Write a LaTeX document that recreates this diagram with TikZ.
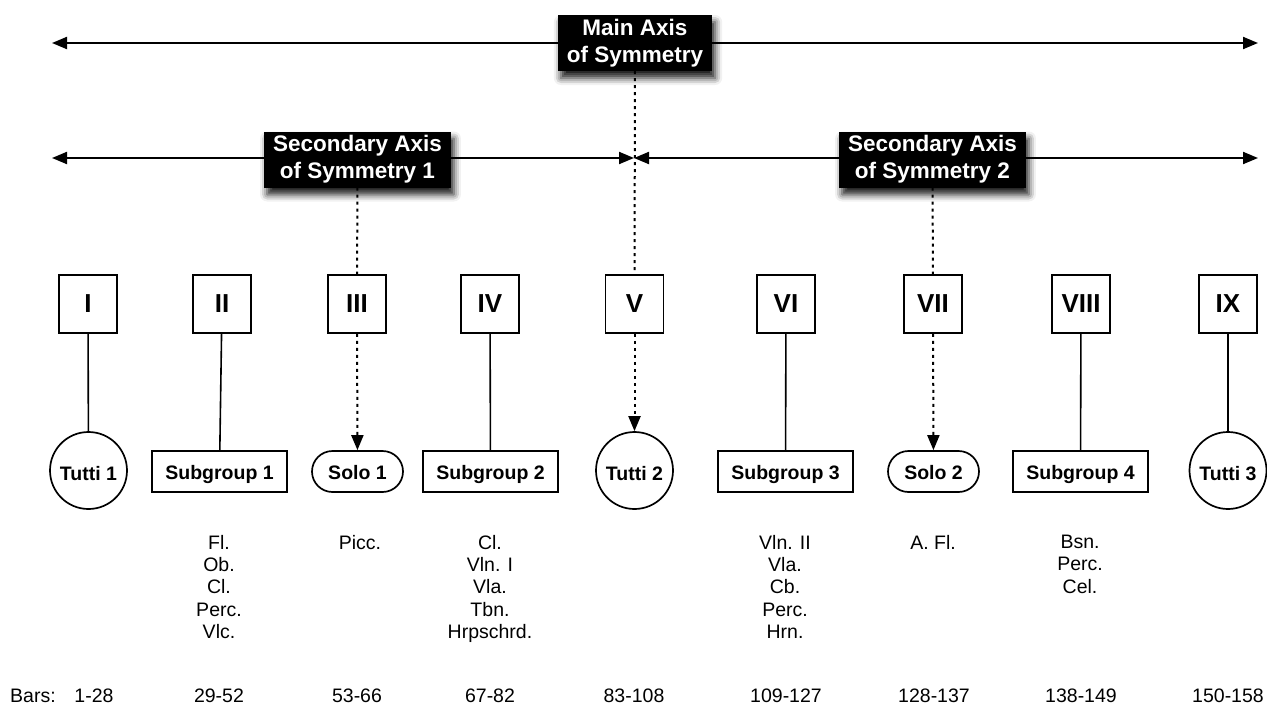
\documentclass[tikz,border=0pt]{standalone}
\usepackage{fontspec}
\setmainfont{Liberation Sans}
\usetikzlibrary{arrows.meta,shadows.blur}

\tikzset{
  tip/.tip={Triangle[length=15pt,width=12pt]},
  axisline/.style={line width=2pt, tip-tip},
  axislabel/.style={fill=black, text=white, align=center, inner xsep=9pt,
    minimum height=56pt, font=\fontsize{22.5}{27}\selectfont\bfseries,
    blur shadow={shadow xshift=3pt, shadow yshift=-7pt,
      shadow blur radius=7pt, shadow opacity=90}},
  section/.style={draw, line width=1.7pt, minimum size=58pt, inner sep=0pt,
    font=\fontsize{26}{26}\selectfont\bfseries},
  ensemble/.style={draw, line width=1.7pt, inner sep=0pt, text height=16pt,
    text depth=0pt, font=\fontsize{19.5}{22}\selectfont\bfseries},
  tutti/.style={ensemble, circle, minimum size=77pt, text height=19pt},
  subgroup/.style={ensemble, minimum width=135pt, minimum height=41pt},
  solo/.style={ensemble, rounded corners=20.5pt, minimum width=91pt,
    minimum height=41pt},
  link/.style={line width=1.6pt},
  symlink/.style={line width=2pt, dash pattern=on 3pt off 4pt},
  instr/.style={align=center, anchor=north, inner sep=0pt,
    font=\fontsize{19.5}{22.3}\selectfont},
  bars/.style={anchor=base, inner sep=0pt, font=\fontsize{19.5}{22.3}\selectfont}
}

\begin{document}
\begin{tikzpicture}[x=1pt,y=-1pt]
\useasboundingbox (0,0) rectangle (1267,707);

% axes of symmetry
\coordinate (mainL) at (52,43);
\coordinate (mainR) at (1258,43);
\coordinate (secL) at (52,158);
\coordinate (secM) at (634,158);
\coordinate (secR) at (1258,158);
\draw[axisline] (mainL) -- (mainR);
\draw[axisline] (secL) -- (secM);
\draw[axisline] (secM) -- (secR);

\node[axislabel] (mainax) at (635,43) {Main Axis\\of Symmetry};
\node[axislabel] (secax1) at (357.5,159.5) {Secondary Axis\\of Symmetry 1};
\node[axislabel] (secax2) at (932.5,159.5) {Secondary Axis\\of Symmetry 2};

% sections
\node[section] (s1) at (88,304) {I};
\node[section] (s2) at (222,304) {II};
\node[section] (s3) at (357,304) {III};
\node[section] (s4) at (490,304) {IV};
\node[section] (s5) at (634.5,304) {V};
\node[section] (s6) at (786,304) {VI};
\node[section] (s7) at (933,304) {VII};
\node[section] (s8) at (1081,304) {VIII};
\node[section] (s9) at (1228,304) {IX};

% ensembles
\node[tutti] (t1) at (88.5,470.5) {Tutti 1};
\node[subgroup] (g1) at (219.5,471.5) {Subgroup 1};
\node[solo] (o1) at (357.5,471.5) {Solo 1};
\node[subgroup] (g2) at (490.5,471.5) {Subgroup 2};
\node[tutti] (t2) at (634.5,470.5) {Tutti 2};
\node[subgroup] (g3) at (785.5,471.5) {Subgroup 3};
\node[solo] (o2) at (933.5,471.5) {Solo 2};
\node[subgroup] (g4) at (1080.5,471.5) {Subgroup 4};
\node[tutti] (t3) at (1228,470.5) {Tutti 3};

% plain links
\draw[link] (s1) -- (t1);
\draw[link] (s2) -- (g1);
\draw[link] (s4) -- (g2);
\draw[link] (s6) -- (g3);
\draw[link] (s8) -- (g4);
\draw[link] (s9) -- (t3);

% symmetry links
\draw[symlink] (mainax) -- (s5);
\draw[symlink, -tip] (s5) -- (t2);
\draw[symlink] (secax1) -- (s3);
\draw[symlink, -tip] (s3) -- (o1);
\draw[symlink] (secax2) -- (s7);
\draw[symlink, -tip] (s7) -- (o2);

% instrumentation
\node[instr] (i2) at (219,535) {Fl.\\Ob.\\Cl.\\Perc.\\Vlc.};
\node[instr] (i3) at (360,535) {Picc.};
\node[instr] (i4) at (490,535) {Cl.\\Vln. I\\Vla.\\Tbn.\\Hrpschrd.};
\node[instr] (i6) at (785,535) {Vln. II\\Vla.\\Cb.\\Perc.\\Hrn.};
\node[instr] (i7) at (933,535) {A. Fl.};
\node[instr] (i8) at (1080,535) {Bsn.\\Perc.\\Cel.};

% bar numbers
\node[bars, anchor=base west] (blabel) at (10,702) {Bars:};
\node[bars] (b1) at (94,702) {1-28};
\node[bars] (b2) at (219,702) {29-52};
\node[bars] (b3) at (357,702) {53-66};
\node[bars] (b4) at (490,702) {67-82};
\node[bars] (b5) at (634,702) {83-108};
\node[bars] (b6) at (786,702) {109-127};
\node[bars] (b7) at (934,702) {128-137};
\node[bars] (b8) at (1081,702) {138-149};
\node[bars] (b9) at (1228,702) {150-158};
\end{tikzpicture}
\end{document}
